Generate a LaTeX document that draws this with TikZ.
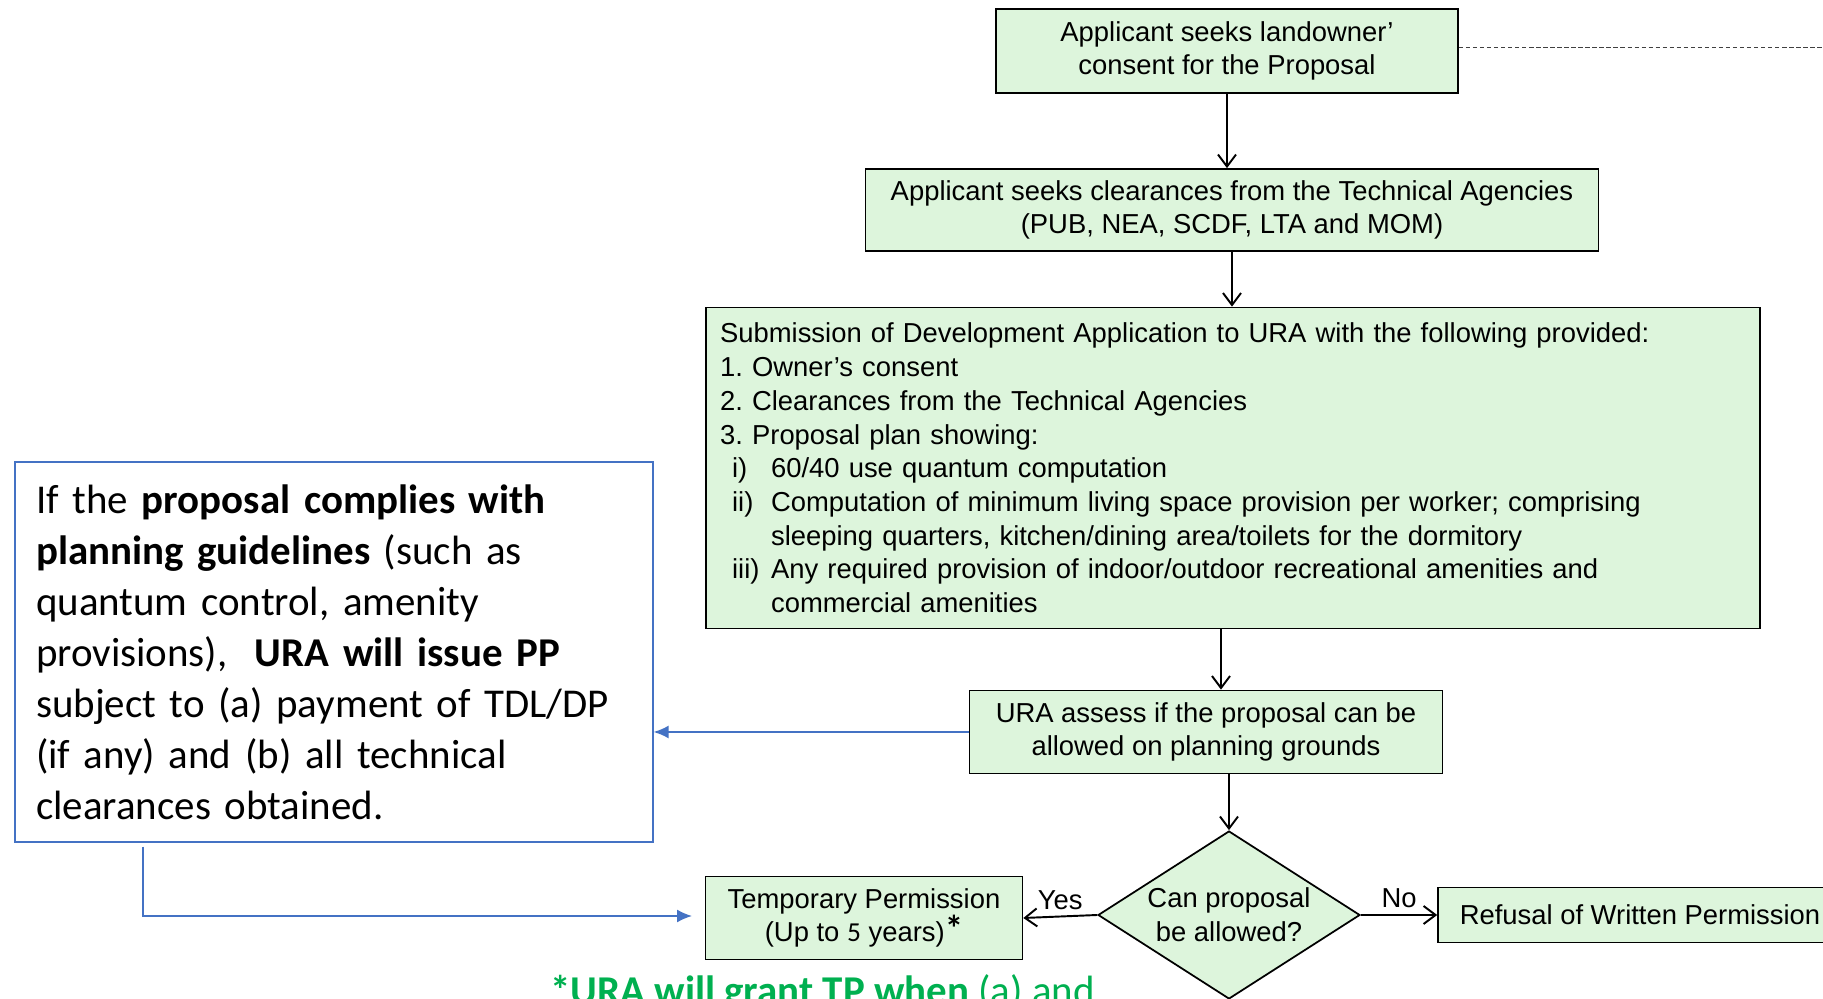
\documentclass[tikz,border=0pt]{standalone}
\usepackage{fontspec}
\setmainfont{Liberation Sans}
\newfontfamily\calibri{Carlito}
\usetikzlibrary{arrows.meta, shapes.geometric}
\definecolor{boxgreen}{RGB}{221,245,220}
\definecolor{noteblue}{RGB}{68,114,196}
\definecolor{notegreen}{RGB}{0,176,80}
\tikzset{
  stage/.style={draw=black, line width=1pt, fill=boxgreen, align=center,
    font=\fontsize{15.6}{19.2}\selectfont},
  decision/.style={diamond, draw=black, line width=1pt, fill=boxgreen, align=center,
    aspect=1.56, inner sep=0pt, minimum width=5.24cm, minimum height=3.36cm,
    font=\fontsize{15.6}{19.2}\selectfont},
  notebox/.style={draw=noteblue, line width=0.8pt, align=left, text width=11.92cm,
    inner xsep=0.42cm, minimum height=7.6cm, font=\calibri\fontsize{23.3}{29}\selectfont},
  flow/.style={line width=1.1pt, -{Straight Barb[length=2.4mm, width=3.6mm]}},
  noteline/.style={draw=noteblue, line width=0.9pt, -{Latex[length=3mm, width=2.6mm]}},
  dashline/.style={draw=black!75, line width=0.5pt, dash pattern=on 2.5pt off 1.5pt}
}
\newcommand{\planitem}[1]{\hspace*{0.24cm}\makebox[0.78cm][l]{#1}}

\begin{document}
\begin{tikzpicture}[x=0.02cm, y=-0.02cm]
\useasboundingbox (0,0) rectangle (1823,999);
\clip (0,0) rectangle (1823,999);

\node[stage, minimum width=9.24cm, minimum height=1.68cm] (consent) at (1227,51)
  {Applicant seeks landowner’\\consent for the Proposal};
\node[stage, minimum width=14.66cm, minimum height=1.64cm] (clear) at (1232,210)
  {Applicant seeks clearances from the Technical Agencies\\(PUB, NEA, SCDF, LTA and MOM)};
\node[stage, align=left, text width=20.52cm, inner xsep=0.28cm, minimum height=6.42cm] (submit) at (1233,468)
  {Submission of Development Application to URA with the following provided:\\
   1.\ Owner’s consent\\
   2.\ Clearances from the Technical Agencies\\
   3.\ Proposal plan showing:\\
   \planitem{i)}60/40 use quantum computation\\
   \planitem{ii)}Computation of minimum living space provision per worker; comprising\\
   \planitem{}sleeping quarters, kitchen/dining area/toilets for the dormitory\\
   \planitem{iii)}Any required provision of indoor/outdoor recreational amenities and\\
   \planitem{}commercial amenities};
\node[stage, minimum width=9.46cm, minimum height=1.66cm] (assess) at (1206,732)
  {URA assess if the proposal can be\\allowed on planning grounds};
\node[decision] (allow) at (1229,915) {Can proposal\\be allowed?};
\node[stage, minimum width=6.34cm, minimum height=1.66cm] (temp) at (864,918)
  {Temporary Permission\\(Up to {\calibri 5} years){\calibri\bfseries\fontsize{21}{21}\selectfont *}};
\node[stage, minimum width=8.08cm, minimum height=1.1cm] (refuse) at (1640,915)
  {Refusal of Written Permission};

\node[notebox] (ppnote) at (334,652)
  {If the \textbf{proposal complies with}\\
   \textbf{planning guidelines} (such as\\
   quantum control, amenity\\
   provisions), \ \textbf{URA will issue PP}\\
   subject to (a) payment of TDL/DP\\
   (if any) and (b) all technical\\
   clearances obtained.};
\node[anchor=base west, inner sep=0pt, text=notegreen, font=\calibri\fontsize{23.3}{29}\selectfont] (tpnote) at (550,1004)
  {\textbf{*URA will grant TP when} (a) and};

\coordinate (rightedge) at (1823,47);
\coordinate (ppturn) at (143,916);
\coordinate (ppend) at (692,916);

\draw[dashline] (consent.east |- rightedge) -- (rightedge);
\draw[flow] (consent.south) -- (consent.south |- clear.north);
\draw[flow] (clear.south) -- (clear.south |- submit.north);
\draw[flow] ([xshift=-0.24cm]submit.south) -- ([xshift=-0.24cm]submit.south |- assess.north);
\draw[flow] (assess.south -| allow.north) -- (allow.north);
\draw[flow] (allow.west) -- node[above, font=\fontsize{15.6}{19.2}\selectfont] {Yes} (temp.east);
\draw[flow] (allow.east) -- node[above, font=\fontsize{15.6}{19.2}\selectfont] {No} (refuse.west);

\draw[noteline] (assess.west) -- (assess.west -| ppnote.east);
\draw[noteline] ([yshift=-0.08cm]ppnote.south -| ppturn) -- (ppturn) -- (ppend);

\end{tikzpicture}
\end{document}
